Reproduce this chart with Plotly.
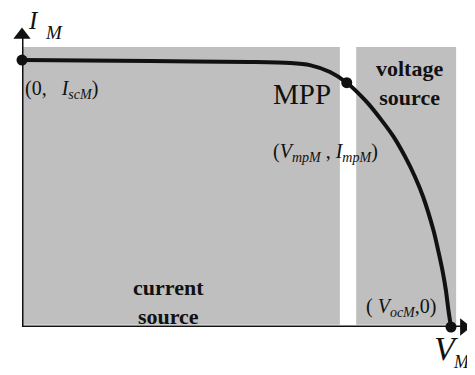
import plotly.graph_objects as go

# I-V curve of the PV module (normalised: V/VocM, I/IscM)
v_curve = [0.0, 0.298, 0.531, 0.625, 0.671, 0.718, 0.757, 0.803, 0.838, 0.866, 0.893, 0.916,
           0.935, 0.959, 0.970, 0.980, 0.988, 0.994, 1.0]
i_curve = [1.0, 0.996, 0.993, 0.989, 0.981, 0.955, 0.915, 0.844, 0.775, 0.713, 0.638, 0.563,
           0.488, 0.363, 0.288, 0.213, 0.139, 0.064, 0.0]

# key points: short circuit, MPP, open circuit
key_v = [0.0, 0.757, 1.0]
key_i = [1.0, 0.915, 0.0]

# shaded regions (x0, x1, y0, y1)
region_names = ["current source", "voltage source"]
region_x0 = [0.0, 0.779]
region_x1 = [0.741, 1.012]
region_y0 = [0.008, 0.008]
region_y1 = [1.049, 1.049]

X_MAX = 1.049
Y_MAX = 1.12

FONT = "Liberation Serif, Times New Roman, serif"
GRAY = "#bfbfbf"
INK = "#111111"

fig = go.Figure()

for x0, x1, y0, y1 in zip(region_x0, region_x1, region_y0, region_y1):
    fig.add_shape(type="rect", xref="x", yref="y", x0=x0, x1=x1, y0=y0, y1=y1,
                  fillcolor=GRAY, line=dict(width=0), layer="below")

# axes lines
fig.add_shape(type="line", xref="x", yref="y", x0=0, x1=X_MAX - 0.02, y0=0, y1=0,
              line=dict(color=INK, width=3))
fig.add_shape(type="line", xref="x", yref="y", x0=0, x1=0, y0=0, y1=Y_MAX - 0.03,
              line=dict(color=INK, width=3))

fig.add_trace(go.Scatter(x=v_curve, y=i_curve, mode="lines",
                         line=dict(color=INK, width=4, shape="spline", smoothing=0.8),
                         hoverinfo="skip", cliponaxis=False))
fig.add_trace(go.Scatter(x=key_v, y=key_i, mode="markers", marker=dict(color=INK, size=11),
                         hoverinfo="skip", cliponaxis=False))
# arrow heads
fig.add_trace(go.Scatter(x=[0], y=[Y_MAX - 0.026], mode="markers",
                         marker=dict(symbol="triangle-up", size=15, color=INK), cliponaxis=False, hoverinfo="skip"))
fig.add_trace(go.Scatter(x=[X_MAX - 0.019], y=[0], mode="markers",
                         marker=dict(symbol="triangle-right", size=15, color=INK), cliponaxis=False, hoverinfo="skip"))


def ann(text, px, py, size, xanchor="center"):
    # px, py: position in window pixels -> paper coords of the plot area (22..472, 28..327)
    fig.add_annotation(x=(px - 22) / 450.0, y=(327 - py) / 299.0, xref="paper", yref="paper",
                       text=text, showarrow=False, xanchor=xanchor, yanchor="middle",
                       font=dict(family=FONT, size=size, color=INK))


# axis names: main letter + separate larger subscript
ann("<i>I</i>", 26, 20, 25, xanchor="left")
ann("<i>M</i>", 43, 33, 19, xanchor="left")
ann("<i>V</i>", 432, 348, 34, xanchor="left")
ann("<i>M</i>", 451, 362, 18, xanchor="left")

ann("(0,&nbsp;&nbsp;&nbsp;<i>I</i><sub><i>scM</i></sub>)", 23, 89, 20, xanchor="left")
ann("MPP", 302, 94, 29)
ann("(<i>V</i><sub><i>mpM</i></sub> , <i>I</i><sub><i>mpM</i></sub>)", 325, 152, 20)
ann("<b>voltage<br>source</b>", 409, 83, 22)
ann("<b>current<br>source</b>", 168, 302, 22)
ann("(&nbsp;<i>V</i><sub><i>ocM</i></sub>,0)", 401, 307, 20)

# the page body has an 8px margin, so the plot area is placed at window px 22..472 / 28..327
fig.update_layout(
    width=475, height=375,
    margin=dict(l=14, r=11, t=20, b=56),
    paper_bgcolor="white", plot_bgcolor="white",
    showlegend=False,
    xaxis=dict(range=[0, X_MAX], visible=False, fixedrange=True),
    yaxis=dict(range=[0, Y_MAX], visible=False, fixedrange=True),
)

fig.write_html("out.html")
